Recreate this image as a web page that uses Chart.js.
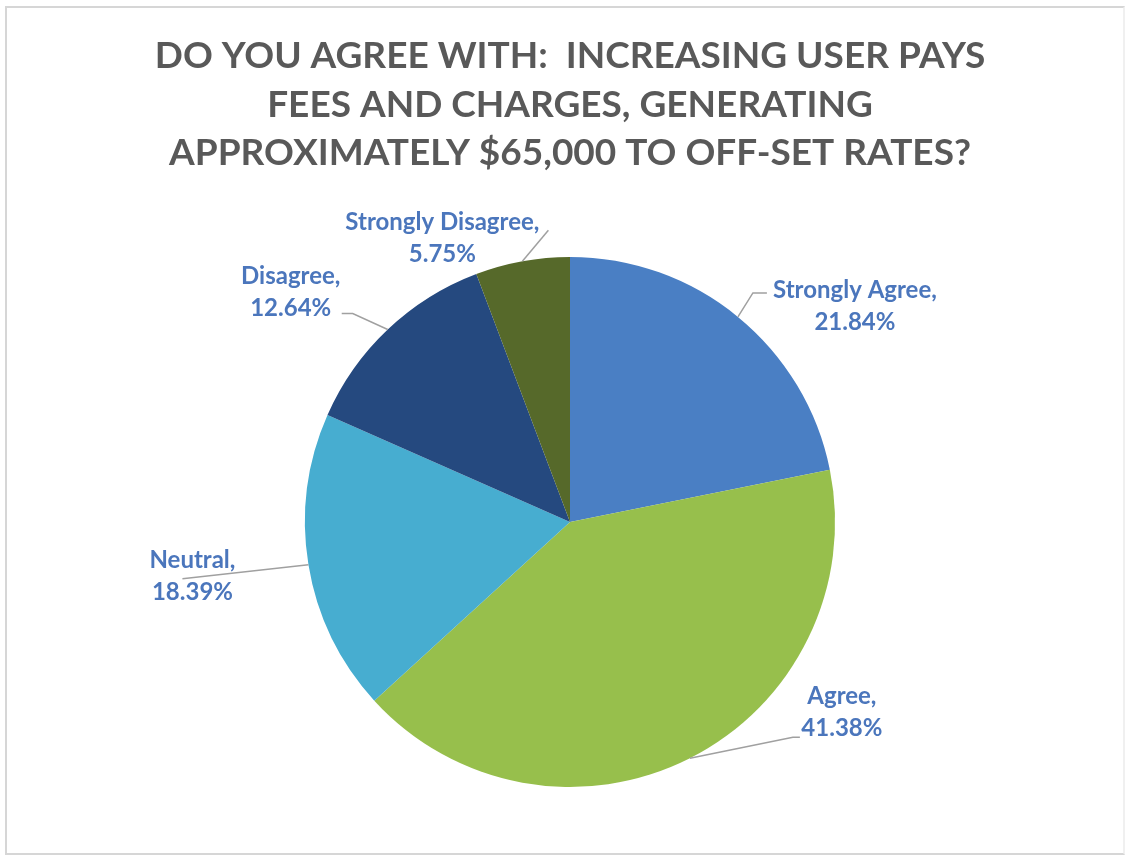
<!DOCTYPE html>
<html>
<head>
<meta charset="utf-8">
<title>User pays fees survey</title>
<script src="https://cdn.jsdelivr.net/npm/chart.js@4/dist/chart.umd.min.js"></script>
<style>
    html, body { margin: 0; padding: 0; background: #fff; }
    #wrap { position: relative; width: 1126px; height: 855px; }
    #frame {
        position: absolute; left: 5px; top: 6px; width: 1116px; height: 845px;
        border: 2px solid #d6d6d6; border-right-color: #f0f0f0; pointer-events: none;
    }
</style>
</head>
<body>
<div id="wrap">
    <canvas id="surveyPie" width="1126" height="855"></canvas>
    <div id="frame"></div>
</div>
<script>
// Survey responses
const answers = ['Strongly Agree', 'Agree', 'Neutral', 'Disagree', 'Strongly Disagree'];
const shares = [21.84, 41.38, 18.39, 12.64, 5.75];
const sliceColors = ['#4a7fc4', '#97bf4c', '#47add0', '#25497f', '#56692a'];

const titleLines = [
    'DO YOU AGREE WITH:  INCREASING USER PAYS',
    'FEES AND CHARGES, GENERATING',
    'APPROXIMATELY $65,000 TO OFF-SET RATES?'
];

// label box centre and leader line bends, relative to the slice's outer edge point
const labelShift = [[117, -11], [152, -46], [-116, 11], [-97, -37], [-80, -23]];
const leaderBends = [
    [[15, -24], [29, -24]],
    [[103, -21], [110, -21]],
    [[-126, 14]],
    [[-35, -16], [-46, -16]],
    [[26, -31]]
];

const sliceLabels = {
    id: 'sliceLabels',
    afterDatasetsDraw(chart) {
        const ctx = chart.ctx;
        const arcs = chart.getDatasetMeta(0).data;
        ctx.save();
        arcs.forEach((arc, i) => {
            const p = arc.getProps(['x', 'y', 'startAngle', 'endAngle', 'outerRadius'], true);
            const mid = (p.startAngle + p.endAngle) / 2;
            const ex = p.x + p.outerRadius * Math.cos(mid);
            const ey = p.y + p.outerRadius * Math.sin(mid);

            ctx.strokeStyle = '#a0a0a0';
            ctx.lineWidth = 1.5;
            ctx.beginPath();
            ctx.moveTo(ex, ey);
            leaderBends[i].forEach(b => ctx.lineTo(ex + b[0], ey + b[1]));
            ctx.stroke();

            const cx = ex + labelShift[i][0];
            const cy = ey + labelShift[i][1];
            ctx.fillStyle = '#4b76bc';
            ctx.font = 'bold 24px Lato';
            ctx.textAlign = 'center';
            ctx.textBaseline = 'middle';
            ctx.fillText(answers[i] + ',', cx, cy - 16);
            ctx.fillText(shares[i].toFixed(2) + '%', cx, cy + 16);
        });
        ctx.restore();
    }
};

function initializeChart() {
    const ctx = document.getElementById('surveyPie').getContext('2d');
    new Chart(ctx, {
        type: 'pie',
        data: {
            labels: answers,
            datasets: [{
                data: shares,
                backgroundColor: sliceColors,
                borderWidth: 0
            }]
        },
        options: {
            responsive: false,
            animation: false,
            layout: { padding: { left: 14, bottom: 68 } },
            plugins: {
                legend: { display: false },
                tooltip: { enabled: false },
                title: {
                    display: true,
                    text: titleLines,
                    color: '#595959',
                    font: { family: 'Lato', weight: 'bold', size: 37, lineHeight: 1.31 },
                    padding: { top: 32, bottom: 79.5 }
                }
            }
        },
        plugins: [sliceLabels]
    });
}

document.addEventListener('DOMContentLoaded', () => {
    initializeChart();
});
</script>
</body>
</html>
